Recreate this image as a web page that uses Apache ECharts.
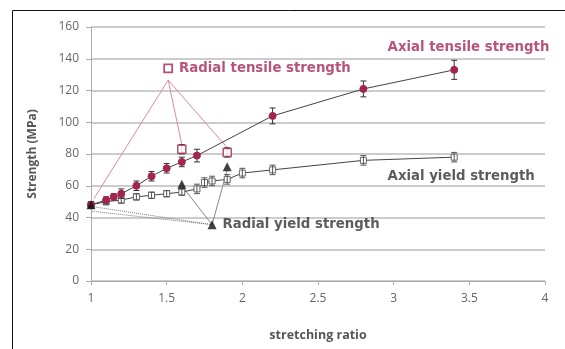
<!DOCTYPE html>
<html><head><meta charset="utf-8">
<script src="https://cdn.jsdelivr.net/npm/echarts@6/dist/echarts.min.js"></script>
<style>html,body{margin:0;padding:0;background:#fff}#c{width:565px;height:349px}</style>
</head><body><div id="c"></div>
<script>
// ---- data ----
const atRatio = [1.0, 1.1, 1.15, 1.2, 1.3, 1.4, 1.5, 1.6, 1.7, 2.2, 2.8, 3.4];
const axialTensile = [48, 51, 53, 55, 60, 66, 71, 75, 79, 104, 121, 133];
const axialTensileErr = [2, 2, 2, 3, 3, 3, 3, 3, 4, 5, 5, 6];

const ayRatio = [1.0, 1.1, 1.2, 1.3, 1.4, 1.5, 1.6, 1.7, 1.75, 1.8, 1.9, 2.0, 2.2, 2.8, 3.4];
const axialYield = [48, 50, 51, 53, 54, 55, 56, 58, 62, 63, 64, 68, 70, 76, 78];
const axialYieldErr = [2, 2, 2, 2, 2, 2, 2, 3, 3, 3, 3, 3, 3, 3, 3];

const rtRatio = [1.6, 1.9];
const radialTensile = [83, 81];
const radialTensileErr = [3, 3];

const ryRatio = [1.0, 1.6, 1.9];
const radialYield = [48, 61, 72];

const xTicks = [1, 1.5, 2, 2.5, 3, 3.5, 4];
const yTicks = [0, 20, 40, 60, 80, 100, 120, 140, 160];

// annotation (callout) anchors in data units
const rtLabelPt = [1.51, 134];
const rtApex = [1.51, 126.5];
const rtTargets = [[1.02, 52], [1.6, 86], [1.9, 84]];
const ryLabelPt = [1.8, 35.5];
const ryTargets = [[1.6, 60], [1.9, 70]];
const ryDotted = [[1.0, 47], [1.0, 44]];
const atLabelPt = [2.96, 147];
const ayLabelPt = [2.96, 66];

const RED = '#a3244f';
const RED_TXT = '#a6285a';
const DARK = '#333';

const zip = (xs, ys) => xs.map((x, i) => [x, ys[i]]);
const errData = (xs, ys, es) => xs.map((x, i) => [x, ys[i] - es[i], ys[i] + es[i]]);

function errSeries(data, color) {
  return {
    type: 'custom', z: 3,
    renderItem: function (params, api) {
      const x = api.value(0);
      const lo = api.coord([x, api.value(1)]);
      const hi = api.coord([x, api.value(2)]);
      const w = 3;
      const st = { stroke: color, lineWidth: 1 };
      return { type: 'group', children: [
        { type: 'line', shape: { x1: lo[0], y1: lo[1], x2: hi[0], y2: hi[1] }, style: st },
        { type: 'line', shape: { x1: lo[0] - w, y1: lo[1], x2: lo[0] + w, y2: lo[1] }, style: st },
        { type: 'line', shape: { x1: hi[0] - w, y1: hi[1], x2: hi[0] + w, y2: hi[1] }, style: st }
      ]};
    },
    data: data
  };
}

function lineSeg(a, b, color, type) {
  return { type: 'line', data: [a, b], symbol: 'none', silent: true, z: 1,
    lineStyle: { color: color, width: 1, type: type || 'solid' } };
}

const labelFont = { fontFamily: 'DejaVu Sans', fontWeight: 'bold', fontSize: 13.3 };

const series = [];
rtTargets.forEach(t => series.push(lineSeg(rtApex, t, '#d98aa4')));
ryTargets.forEach(t => series.push(lineSeg(ryLabelPt, t, '#888')));
ryDotted.forEach(t => series.push(lineSeg(ryLabelPt, t, '#777', 'dotted')));

series.push(
  { type: 'line', data: zip(ayRatio, axialYield), symbol: 'rect', symbolSize: 6, z: 2,
    lineStyle: { color: '#444', width: 1 },
    itemStyle: { color: '#fff', borderColor: '#666', borderWidth: 1 } },
  errSeries(errData(ayRatio, axialYield, axialYieldErr), '#555'),
  { type: 'line', data: zip(atRatio, axialTensile), symbol: 'circle', symbolSize: 7, z: 4,
    lineStyle: { color: '#444', width: 1 },
    itemStyle: { color: RED, borderColor: RED } },
  errSeries(errData(atRatio, axialTensile, axialTensileErr), '#333'),
  { type: 'scatter', data: zip(rtRatio, radialTensile), symbol: 'rect', symbolSize: 8, z: 5,
    itemStyle: { color: '#fff', borderColor: RED, borderWidth: 1.5 } },
  errSeries(errData(rtRatio, radialTensile, radialTensileErr), '#444'),
  { type: 'scatter', data: zip(ryRatio, radialYield), symbol: 'triangle', symbolSize: 9, z: 6,
    itemStyle: { color: '#111' } },
  { type: 'scatter', data: [rtLabelPt], symbol: 'rect', symbolSize: 8, z: 6,
    itemStyle: { color: '#fff', borderColor: RED, borderWidth: 1.8 },
    label: { show: true, position: 'right', distance: 6, formatter: 'Radial tensile strength', color: RED_TXT, ...labelFont } },
  { type: 'scatter', data: [ryLabelPt], symbol: 'triangle', symbolSize: 9, z: 6,
    itemStyle: { color: '#111' },
    label: { show: true, position: 'right', distance: 6, formatter: 'Radial yield strength', color: DARK, ...labelFont } },
  { type: 'scatter', data: [atLabelPt], symbolSize: 0, z: 6,
    label: { show: true, position: 'right', distance: 0, formatter: 'Axial tensile strength', color: RED_TXT, ...labelFont } },
  { type: 'scatter', data: [ayLabelPt], symbolSize: 0, z: 6,
    label: { show: true, position: 'right', distance: 0, formatter: 'Axial yield strength', color: DARK, ...labelFont } }
);

const chart = echarts.init(document.getElementById('c'), null, { renderer: 'canvas' });
chart.setOption({
  animation: false,
  backgroundColor: '#fff',
  graphic: [{ type: 'rect', left: 10, top: 8, shape: { width: 600, height: 400 },
    style: { fill: 'none', stroke: '#111', lineWidth: 1 }, silent: true }],
  grid: { left: 91, right: 20, top: 27, bottom: 68 },
  xAxis: {
    type: 'value', min: xTicks[0], max: xTicks[xTicks.length - 1], interval: 0.5,
    name: 'stretching ratio', nameLocation: 'middle', nameGap: 48,
    nameTextStyle: { color: '#555', fontFamily: 'Open Sans', fontWeight: 'bold', fontSize: 12.5 },
    axisLine: { lineStyle: { color: '#aaa' } },
    axisTick: { show: true, length: 4, lineStyle: { color: '#aaa' } },
    axisLabel: { color: '#666', fontFamily: 'Open Sans', fontSize: 12, margin: 12 },
    splitLine: { show: false }
  },
  yAxis: {
    type: 'value', min: yTicks[0], max: yTicks[yTicks.length - 1], interval: 20,
    name: 'Strength (MPa)', nameLocation: 'middle', nameGap: 52,
    nameTextStyle: { color: '#555', fontFamily: 'Open Sans', fontWeight: 'bold', fontSize: 12 },
    axisLine: { show: true, lineStyle: { color: '#aaa' } },
    axisTick: { show: true, length: 5, lineStyle: { color: '#aaa' } },
    axisLabel: { color: '#666', fontFamily: 'Open Sans', fontSize: 12, margin: 12 },
    splitLine: { show: true, lineStyle: { color: '#bbb', width: 1.5 } }
  },
  series: series
});
</script></body></html>
